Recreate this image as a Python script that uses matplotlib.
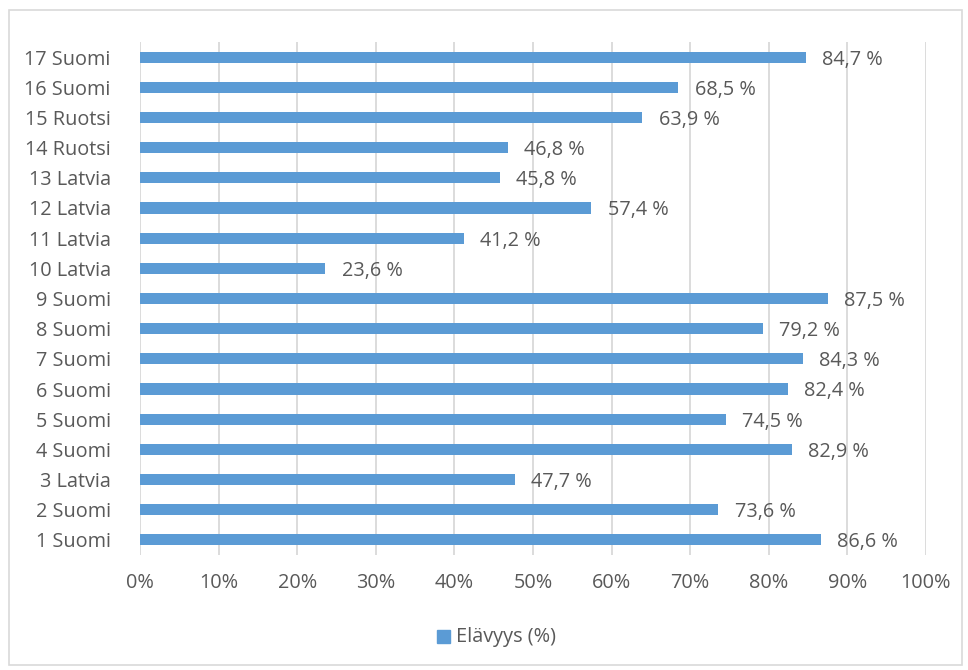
import matplotlib.pyplot as plt
from matplotlib.patches import Rectangle

plt.rcParams['font.family'] = ['Open Sans', 'DejaVu Sans']

categories = ["1 Suomi", "2 Suomi", "3 Latvia", "4 Suomi", "5 Suomi", "6 Suomi",
              "7 Suomi", "8 Suomi", "9 Suomi", "10 Latvia", "11 Latvia", "12 Latvia",
              "13 Latvia", "14 Ruotsi", "15 Ruotsi", "16 Suomi", "17 Suomi"]
values = [86.6, 73.6, 47.7, 82.9, 74.5, 82.4, 84.3, 79.2, 87.5, 23.6, 41.2, 57.4,
          45.8, 46.8, 63.9, 68.5, 84.7]
series_name = "Elävyys (%)"

bar_color = "#5B9BD5"
text_color = "#595959"
grid_color = "#D9D9D9"
fs = 14.3

fig = plt.figure(figsize=(9.68, 6.70), dpi=100)
ax = fig.add_axes([140 / 968, 1 - 555 / 670, 786 / 968, 513 / 670])

y = range(len(categories))
ax.barh(y, values, height=0.37, color=bar_color, zorder=3)
for yi, v in zip(y, values):
    label = f"{v:.1f} %".replace(".", ",")
    ax.text(v + 2.1, yi - 0.08, label, va="center", ha="left",
            fontsize=fs, color=text_color, zorder=4)

ax.set_xlim(0, 100)
ax.set_ylim(-0.5, len(categories) - 0.5)
ax.set_yticks(list(y))
ax.set_yticklabels(categories)
ax.set_xticks(range(0, 101, 10))
ax.set_xticklabels([f"{t}%" for t in range(0, 101, 10)])
ax.tick_params(axis="both", length=0, labelsize=fs, colors=text_color)
ax.tick_params(axis="x", pad=13)
ax.tick_params(axis="y", pad=21)
ax.xaxis.grid(True, color=grid_color, linewidth=1.3, zorder=0)
for s in ax.spines.values():
    s.set_visible(False)

# outer chart border
fig.patches.append(Rectangle((9 / 968, 5 / 670), 953 / 968, 655 / 670,
                             transform=fig.transFigure, fill=False,
                             edgecolor=grid_color, linewidth=1.2))

# legend below the plot
fig.patches.append(Rectangle((437 / 968, 1 - 643 / 670), 13 / 968, 13 / 670,
                             transform=fig.transFigure, color=bar_color))
fig.text(456 / 968, 1 - 637 / 670, series_name, va="center", ha="left",
         fontsize=fs, color=text_color)

fig.savefig("out.png", dpi=100)
